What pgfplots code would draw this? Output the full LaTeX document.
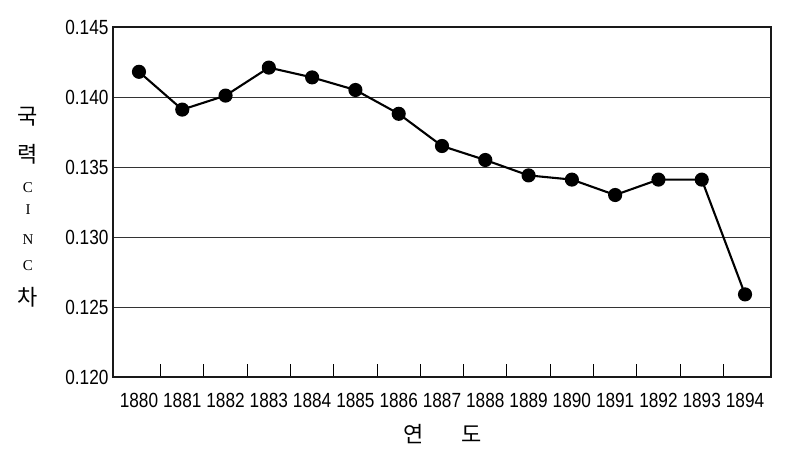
\documentclass[border=0pt]{standalone}
\usepackage{pgfplots}
\pgfplotsset{compat=1.18}
\usepackage{fontspec}
\setmainfont{Liberation Sans}
\newfontfamily\tickfont[FakeStretch=0.84]{Liberation Sans}
\newfontfamily\kr{Noto Sans CJK KR}
\newfontfamily\lserif{Liberation Serif}
\begin{document}
\begin{tikzpicture}
\begin{axis}[name=ax, scale only axis, width=658pt, height=350pt,
  xmin=-0.6, xmax=14.6, ymin=0.120, ymax=0.145,
  ytick={0.120,0.125,0.130,0.135,0.140,0.145},
  yticklabels={0.120,0.125,0.130,0.135,0.140,0.145},
  xtick={0,1,2,3,4,5,6,7,8,9,10,11,12,13,14},
  xticklabels={1880,1881,1882,1883,1884,1885,1886,1887,1888,1889,1890,1891,1892,1893,1894},
  minor xtick={0.5,1.5,2.5,3.5,4.5,5.5,6.5,7.5,8.5,9.5,10.5,11.5,12.5,13.5},
  major x tick style={draw=none},
  ytick style={draw=none},
  minor x tick style={black, line width=1pt},
  minor tick length=13pt,
  tick align=inside, xtick pos=bottom,
  ymajorgrids, grid style={gray!40!black, line width=0.9pt},
  axis line style={gray!20!black, line width=1.4pt},
  xticklabel style={font=\tickfont\fontsize{20.5}{20.5}\selectfont, yshift=-13pt},
  yticklabel style={font=\tickfont\fontsize{20.5}{20.5}\selectfont, xshift=-1pt},
]
\addplot[black, line width=2.1pt, mark=*, mark size=6pt] coordinates {
(0,0.1418) (1,0.1391) (2,0.1401) (3,0.1421) (4,0.1414) (5,0.1405) (6,0.1388)
(7,0.1365) (8,0.1355) (9,0.1344) (10,0.1341) (11,0.1330) (12,0.1341) (13,0.1341) (14,0.1259)
};
\end{axis}
\path ([shift={(-113pt,-84pt)}]ax.south west) rectangle ([shift={(26pt,27pt)}]ax.north east);
\node at ([shift={(-85pt,260pt)}]ax.south west) {\kr\fontsize{22}{22}\selectfont 국};
\node at ([shift={(-85pt,223pt)}]ax.south west) {\kr\fontsize{22}{22}\selectfont 력};
\node at ([shift={(-85pt,189pt)}]ax.south west) {\lserif\fontsize{15}{15}\selectfont C};
\node at ([shift={(-85pt,167pt)}]ax.south west) {\lserif\fontsize{15}{15}\selectfont I};
\node at ([shift={(-85pt,137pt)}]ax.south west) {\lserif\fontsize{15}{15}\selectfont N};
\node at ([shift={(-85pt,111pt)}]ax.south west) {\lserif\fontsize{15}{15}\selectfont C};
\node at ([shift={(-85pt,80pt)}]ax.south west) {\kr\fontsize{22}{22}\selectfont 차};
\node at ([shift={(301pt,-57pt)}]ax.south west) {\kr\fontsize{22}{22}\selectfont 연};
\node at ([shift={(359pt,-57pt)}]ax.south west) {\kr\fontsize{22}{22}\selectfont 도};
\end{tikzpicture}
\end{document}
